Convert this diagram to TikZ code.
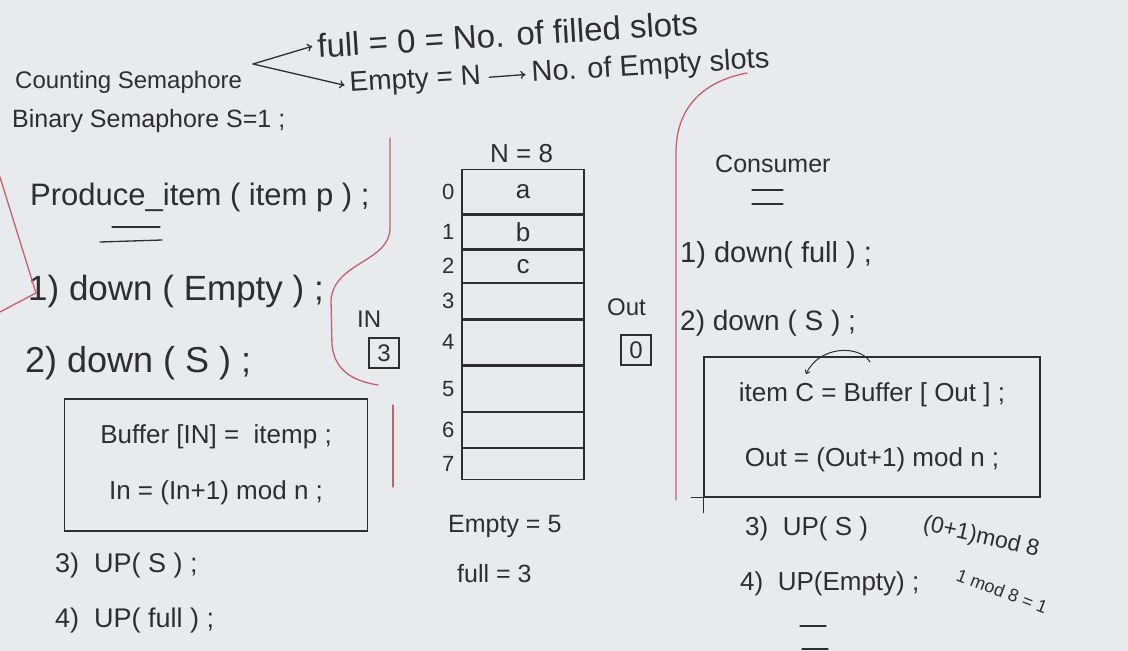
\documentclass[tikz,border=0pt]{standalone}
\usepackage{fontspec}
\setmainfont{Liberation Sans}
\usetikzlibrary{arrows.meta}
\definecolor{board}{HTML}{E7EBEE}
\definecolor{ink}{HTML}{2E2E30}
\definecolor{redink}{HTML}{C8606C}
\newcommand\fsz[1]{\fontsize{#1}{#1}\selectfont}
\begin{document}
\begin{tikzpicture}[x=1pt,y=-1pt,
  hw/.style={inner sep=0pt, anchor=base west, text=ink},
  hand/.style={draw=ink, line width=1.3pt, line cap=round},
  redline/.style={draw=redink, line width=1.3pt, line cap=round},
  codebox/.style={draw=ink, line width=1.3pt, align=center, text=ink, inner sep=0pt},
  cellst/.style={draw=ink, line width=1.3pt, minimum width=122, inner sep=0pt, text=ink, font=\fsz{26}, anchor=north},
  idx/.style={inner sep=0pt, text=ink, font=\fsz{22}},
  valbox/.style={draw=ink, line width=1.3pt, minimum size=30, inner sep=0pt, text=ink, font=\fsz{24}},
]
\fill[board] (0,0) rectangle (1128,651);
\useasboundingbox (0,0) rectangle (1128,651);

% ---- header ----
\node[hw, font=\fsz{24}] (count) at (15,88) {Counting Semaphore};
\node[hw, font=\fsz{25}] (binary) at (12,127) {Binary Semaphore S=1 ;};
\node[hw, font=\fsz{33}, rotate=3.5] (fulldef) at (318,58) {full = 0 = No. of filled slots};
\node[hw, font=\fsz{28}, rotate=3.5] (emptydef) at (350,92) {Empty = N};
\node[hw, font=\fsz{29}, rotate=3.5] (emptyslots) at (532,82) {No. of Empty slots};
\coordinate (fork) at (253,64);
\draw[hand, -{To[length=5pt,width=8pt]}] (fork) -- ([xshift=-5]fulldef.west);
\draw[hand, -{To[length=5pt,width=8pt]}] (fork) -- ([xshift=-5]emptydef.west);
\draw[hand, -{To[length=5pt,width=8pt]}] ([xshift=8]emptydef.east) -- ([xshift=-6]emptyslots.west);

% ---- producer ----
\node[hw, font=\fsz{31}] (produce) at (30,205) {Produce\_item ( item p ) ;};
\draw[hand] (112,227) -- (160,227);
\draw[hand] (100,242) -- (162,240);
\node[hw, font=\fsz{35}] (p1) at (28,300) {1) down ( Empty ) ;};
\node[hw, font=\fsz{36}] (p2) at (25,372) {2) down ( S ) ;};
\node[codebox, minimum width=303, minimum height=132, font=\fsz{26}] (pbox) at (216,465)
  {Buffer [IN] =\ \ itemp ;\\[30pt] In = (In+1) mod n ;};
\node[hw, font=\fsz{27}] (p3) at (55,572) {3)\ \ UP( S ) ;};
\node[hw, font=\fsz{27}] (p4) at (55,627) {4)\ \ UP( full ) ;};

% red marks
\coordinate (rl1) at (0,177);
\coordinate (rl2) at (0,312);
\coordinate (rtip) at (36,293);
\draw[redline] (rl1) -- (rtip) -- (rl2);
\draw[redline] (390,138) -- (390,228) .. controls (390,262) and (334,262) .. (331,300)
  -- (332,345) .. controls (335,375) and (360,382) .. (378,385);
\draw[redline] (393,405) -- (393,487);

% ---- buffer ----
\node[hw, font=\fsz{26}] (N) at (490,162) {N = 8};
\node[cellst, minimum height=44] (c0) at (523,169) {a};
\node[cellst, minimum height=34] (c1) at (c0.south) {b};
\node[cellst, minimum height=32] (c2) at (c1.south) {c};
\node[cellst, minimum height=35] (c3) at (c2.south) {};
\node[cellst, minimum height=45] (c4) at (c3.south) {};
\node[cellst, minimum height=45] (c5) at (c4.south) {};
\node[cellst, minimum height=35] (c6) at (c5.south) {};
\node[cellst, minimum height=31] (c7) at (c6.south) {};
\foreach \i in {0,...,7} {\node[idx] (i\i) at ([xshift=-13]c\i.west) {\i};}

\node[hw, font=\fsz{24}] (inlbl) at (357,327) {IN};
\node[valbox] (inbox) at (384,353) {3};
\node[hw, font=\fsz{24}] (outlbl) at (607,315) {Out};
\node[valbox] (outbox) at (636,350) {0};
\node[hw, font=\fsz{25}] (empty5) at (448,532) {Empty = 5};
\node[hw, font=\fsz{25}] (full3) at (457,582) {full = 3};

% ---- consumer ----
\draw[redline] (747,73) .. controls (700,82) and (677,110) .. (676,150) -- (676,500);
\node[hw, font=\fsz{25}] (consumer) at (715,172) {Consumer};
\draw[hand] (752,190) -- (783,190);
\draw[hand] (752,204) -- (783,204);
\node[hw, font=\fsz{29}] (q1) at (680,262) {1) down( full ) ;};
\node[hw, font=\fsz{28}] (q2) at (680,330) {2) down ( S ) ;};
\node[codebox, minimum width=336, minimum height=140, font=\fsz{26}] (cbox) at (872,427)
  {item C = Buffer [ Out ] ;\\[39pt] Out = (Out+1) mod n ;};
\draw[hand] (cbox.south west) -- ++(-12,0);
\draw[hand] (cbox.south west) -- ++(0,15);
\coordinate (arcs) at (870,362);
\coordinate (arce) at (806,374);
\draw[hand, line width=1pt, -{To[length=4pt,width=6pt]}] (arcs) .. controls (860,345) and (820,345) .. (arce);
\node[hw, font=\fsz{26}] (q3) at (745,535) {3)\ \ UP( S )};
\node[hw, font=\fsz{26}] (q4) at (740,590) {4)\ \ UP(Empty) ;};
\node[hw, font=\fsz{23}, rotate=-13] (calc1) at (922,530) {(0+1)mod 8};
\node[hw, font=\fsz{18}, rotate=-21] (calc2) at (955,580) {1 mod 8 = 1};
\draw[hand] (800,626) -- (826,626);
\draw[hand] (802,649) -- (828,649);
\end{tikzpicture}
\end{document}
